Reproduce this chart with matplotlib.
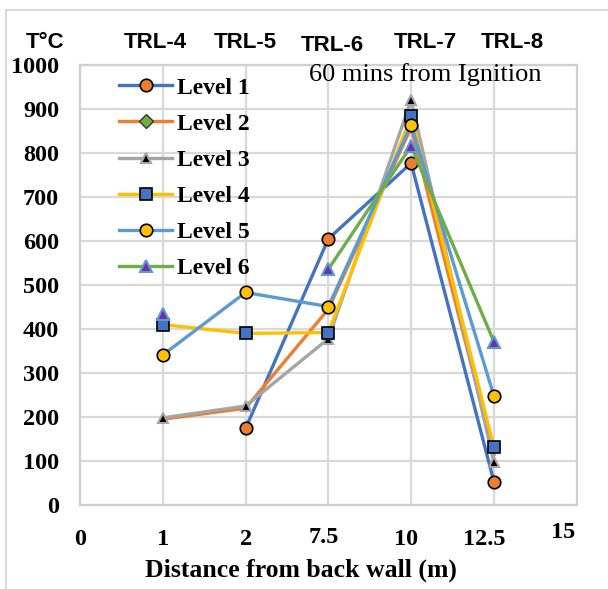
import matplotlib
matplotlib.use('Agg')
import matplotlib.pyplot as plt
import numpy as np
from matplotlib.lines import Line2D
import matplotlib.transforms as mtrans

# ---- data ----
x_labels = ['0', '1', '2', '7.5', '10', '12.5', '15']
trl_labels = ['TRL-4', 'TRL-5', 'TRL-6', 'TRL-7', 'TRL-8']
series_names = ['Level 1', 'Level 2', 'Level 3', 'Level 4', 'Level 5', 'Level 6']
x_pos = [1, 2, 3, 4, 5]
level1 = [np.nan, 174, 605, 777, 53]
level2 = [195, 220, 445, 858, 115]
level3 = [198, 225, 378, 920, 97]
level4 = [410, 390, 392, 884, 131]
level5 = [341, 483, 451, 864, 248]
level6 = [435, np.nan, 536, 816, 371]
y_ticks = [0, 100, 200, 300, 400, 500, 600, 700, 800, 900, 1000]

W, H = 608, 589
fig = plt.figure(figsize=(W / 100, H / 100), dpi=100)
fig.patch.set_facecolor('white')

def fx(px):
    return px / W

def fy(py):
    return 1 - py / H

ax = fig.add_axes([fx(80), fy(505), fx(576.7) - fx(80), fy(65) - fy(505)])
ax.set_xlim(0, 6)
ax.set_ylim(0, 1000)
ax.set_xticks(range(len(x_labels)))
ax.set_xticklabels([])
ax.set_yticks(y_ticks)
ax.set_yticklabels([str(v) for v in y_ticks], fontfamily='Liberation Serif',
                   fontweight='bold', fontsize=17.5)
ax.tick_params(length=0)
ax.tick_params(axis='y', pad=15.0)
ax.grid(True, color='#d9d9d9', lw=1.6, zorder=0)
ax.set_axisbelow(True)
for s in ax.spines.values():
    s.set_color('#d0d0d0')
    s.set_linewidth(1.6)

# x tick labels as text with small offsets
x_off = [0, 0, 0, -5, -5, -10, -14]
y_off = [0, 0, 0, -2, 0, 0, -7]
for i, lab in enumerate(x_labels):
    tr = mtrans.offset_copy(ax.get_xaxis_transform(), fig=fig,
                            x=x_off[i] * 0.72, y=-(24 + y_off[i]) * 0.72, units='points')
    ax.text(i, 0, lab, transform=tr, ha='center', va='top',
            fontfamily='Liberation Serif', fontweight='bold', fontsize=17.5)

styles = [
    dict(color='#4472C4', marker='o', ms=9, mfc='#ED7D31', mec='black', mew=1.2),
    dict(color='#ED7D31', marker='None'),
    dict(color='#A5A5A5', marker='^', ms=7, mfc='black', mec='#A5A5A5', mew=1.5),
    dict(color='#FFC000', marker='s', ms=9, mfc='#4472C4', mec='black', mew=1.2),
    dict(color='#5B9BD5', marker='o', ms=9, mfc='#FFC000', mec='black', mew=1.2),
    dict(color='#70AD47', marker='^', ms=9, mfc='#7030A0', mec='#5B9BD5', mew=1.5),
]
legend_markers = [
    dict(marker='o', ms=9, mfc='#ED7D31', mec='black', mew=1.2),
    dict(marker='D', ms=7, mfc='#70AD47', mec='#333333', mew=1.0),
    dict(marker='^', ms=7, mfc='black', mec='#A5A5A5', mew=1.5),
    dict(marker='s', ms=9, mfc='#4472C4', mec='black', mew=1.2),
    dict(marker='o', ms=9, mfc='#FFC000', mec='black', mew=1.2),
    dict(marker='^', ms=9, mfc='#7030A0', mec='#5B9BD5', mew=1.5),
]
data = [level1, level2, level3, level4, level5, level6]
handles = []
for i, (vals, st) in enumerate(zip(data, styles)):
    ax.plot(x_pos, vals, lw=2.4, zorder=3 + i, clip_on=False, **st)
    handles.append(Line2D([0], [0], color=st['color'], lw=2.4, **legend_markers[i]))

leg = fig.legend(handles, series_names, loc='upper left',
                 bbox_to_anchor=(fx(119), fy(77)), frameon=False,
                 prop=dict(family='Liberation Serif', weight='bold', size=17),
                 handlelength=2.25, handletextpad=0.22, labelspacing=0.62,
                 borderpad=0, borderaxespad=0)

# header texts
fig.text(fx(44.6), fy(42.6), 'T°C', ha='center', va='center',
         fontfamily='Liberation Sans', fontweight='bold', fontsize=16)
trl_x = [155, 245.5, 332, 425, 512.5]
trl_y = [42.6, 42.6, 45.6, 42.6, 42.6]
for lab, px, py in zip(trl_labels, trl_x, trl_y):
    fig.text(fx(px), fy(py), lab, ha='center', va='center',
             fontfamily='Liberation Sans', fontweight='bold', fontsize=16)

fig.text(fx(425), fy(81), '60 mins from Ignition', ha='center', va='baseline',
         fontfamily='Liberation Serif', fontsize=19)

fig.text(fx(301), fy(577), 'Distance from back wall (m)', ha='center', va='baseline',
         fontfamily='Liberation Serif', fontweight='bold', fontsize=18.5)

# outer frame
fig.add_artist(Line2D([fx(6), fx(6)], [0, fy(10)], transform=fig.transFigure,
                      color='#d9d9d9', lw=1.5))
fig.add_artist(Line2D([fx(6), 1], [fy(10), fy(10)], transform=fig.transFigure,
                      color='#d9d9d9', lw=1.5))

fig.savefig('out.png', dpi=100)
